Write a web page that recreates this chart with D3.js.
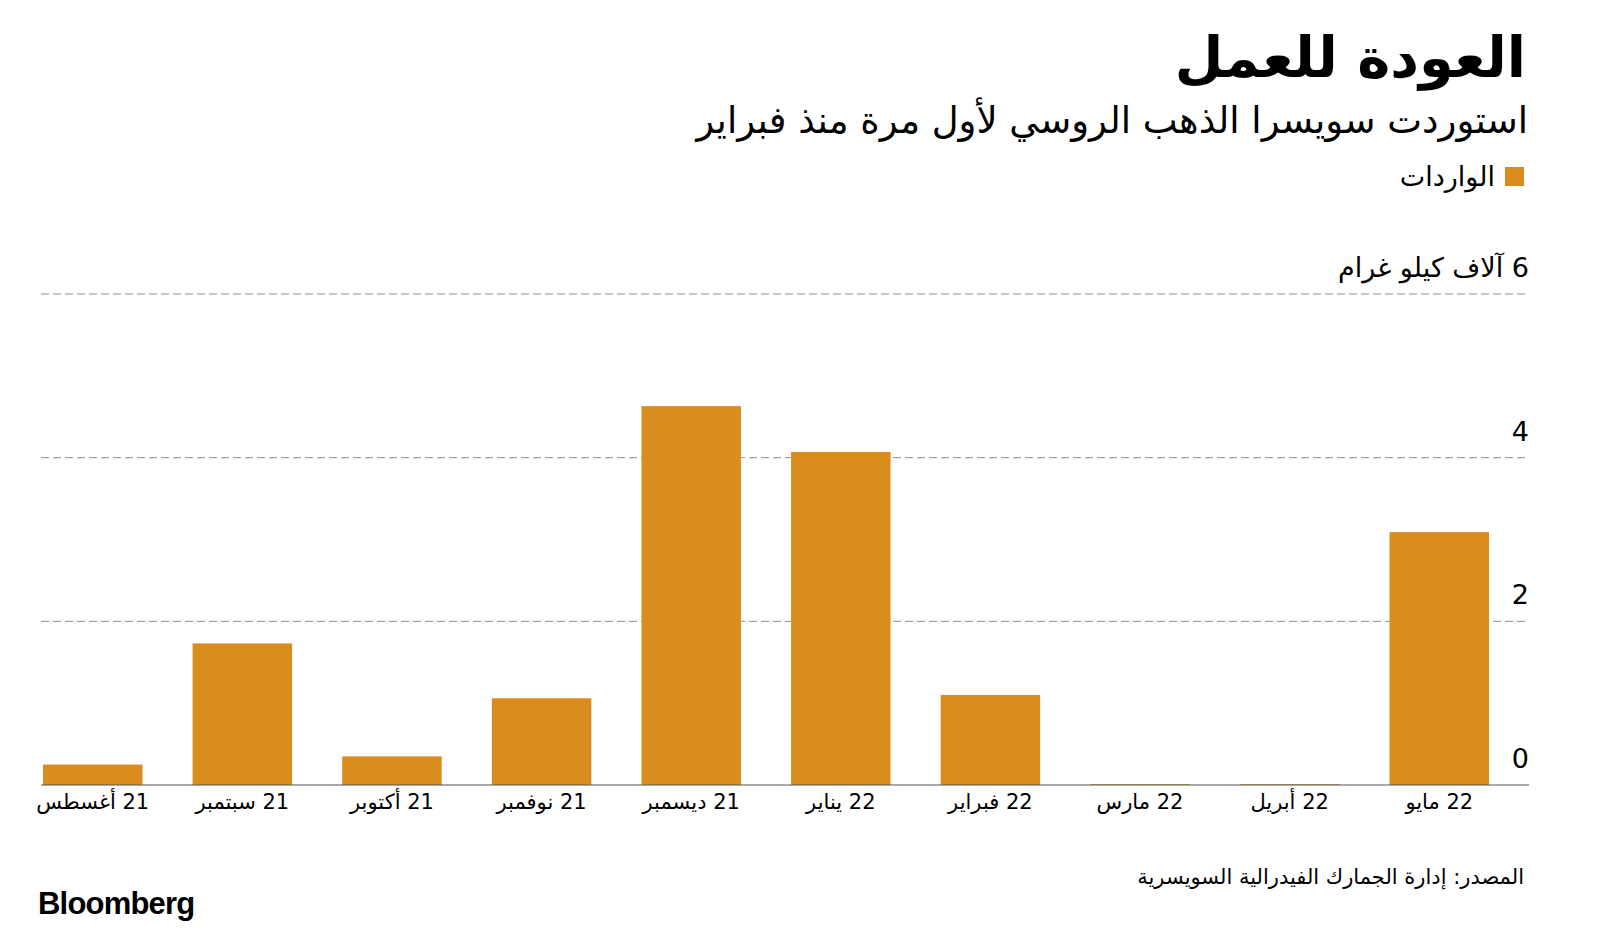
<!DOCTYPE html>
<html>
<head>
<meta charset="utf-8">
<script src="https://cdn.jsdelivr.net/npm/d3@7"></script>
<style>
  html, body { margin: 0; padding: 0; background: #fff; }
  svg { display: block; }
  text { font-family: "DejaVu Sans", "Noto Sans", sans-serif; fill: #000; }
</style>
</head>
<body>
<svg id="chart" width="1600" height="930"></svg>
<script>
// ---- Data ----
const categories = ["21 أغسطس", "21 سبتمبر", "21 أكتوبر", "21 نوفمبر", "21 ديسمبر",
                    "22 يناير", "22 فبراير", "22 مارس", "22 أبريل", "22 مايو"];
const imports = [0.25, 1.73, 0.35, 1.06, 4.63, 4.07, 1.10, 0.01, 0.01, 3.09];
const yTicks = [0, 2, 4, 6];
const yTickLabels = ["0", "2", "4", "6 آلاف كيلو غرام"];
const title = "العودة للعمل";
const subtitle = "استوردت سويسرا الذهب الروسي لأول مرة منذ فبراير";
const legendLabel = "الواردات";
const source = "المصدر: إدارة الجمارك الفيدرالية السويسرية";

// ---- Layout ----
const svg = d3.select("#chart");
const barColor = "#DB8C1E";
const gridLeft = 41, gridRight = 1529;

const x = d3.scaleBand()
  .domain(categories)
  .range([43, 1489])
  .paddingInner(0.335)
  .paddingOuter(0);

const y = d3.scaleLinear()
  .domain([0, 6])
  .range([785, 294]);

// Title
svg.append("text")
  .attr("x", 1526).attr("y", 77)
  .attr("direction", "rtl").attr("text-anchor", "start")
  .style("font-size", "56px").style("font-weight", "bold")
  .text(title);

svg.append("text")
  .attr("x", 1528).attr("y", 133)
  .attr("direction", "rtl").attr("text-anchor", "start")
  .style("font-size", "37px")
  .text(subtitle);

// Legend
svg.append("rect")
  .attr("x", 1505).attr("y", 167).attr("width", 19).attr("height", 19)
  .attr("fill", barColor);
svg.append("text")
  .attr("x", 1495).attr("y", 186)
  .attr("direction", "rtl").attr("text-anchor", "start")
  .style("font-size", "27px")
  .text(legendLabel);

// Gridlines
const grid = svg.append("g");
grid.selectAll("line")
  .data(yTicks.filter(d => d !== 0))
  .join("line")
  .attr("x1", gridLeft).attr("x2", gridRight)
  .attr("y1", d => y(d)).attr("y2", d => y(d))
  .attr("stroke", "#8f8f8f").attr("stroke-width", 1)
  .attr("stroke-dasharray", "8,4");

// Y tick labels
svg.append("g").selectAll("text")
  .data(yTicks)
  .join("text")
  .attr("x", gridRight).attr("y", d => y(d) - 17)
  .attr("direction", "rtl").attr("text-anchor", "start")
  .style("font-size", "27px")
  .text((d, i) => yTickLabels[i]);

// Bars
svg.append("g").selectAll("rect")
  .data(imports)
  .join("rect")
  .attr("x", (d, i) => x(categories[i]))
  .attr("width", x.bandwidth())
  .attr("y", d => y(d))
  .attr("height", d => y(0) - y(d))
  .attr("fill", barColor);

// Baseline
svg.append("line")
  .attr("x1", gridLeft).attr("x2", gridRight)
  .attr("y1", y(0)).attr("y2", y(0))
  .attr("stroke", "#555").attr("stroke-width", 1.2);

// X labels
svg.append("g").selectAll("text")
  .data(categories)
  .join("text")
  .attr("x", d => x(d) + x.bandwidth() / 2)
  .attr("y", 809)
  .attr("direction", "rtl").attr("text-anchor", "middle")
  .style("font-size", "21px")
  .style("letter-spacing", "-0.3px")
  .text(d => d);

// Source
svg.append("text")
  .attr("x", 1524).attr("y", 884)
  .attr("direction", "rtl").attr("text-anchor", "start")
  .style("font-size", "21px")
  .text(source);

// Logo
svg.append("text")
  .attr("x", 38).attr("y", 914)
  .style("font-family", "Liberation Sans, Arial, sans-serif")
  .style("font-size", "31px").style("font-weight", "bold")
  .style("letter-spacing", "-0.8px")
  .text("Bloomberg");
</script>
</body>
</html>
